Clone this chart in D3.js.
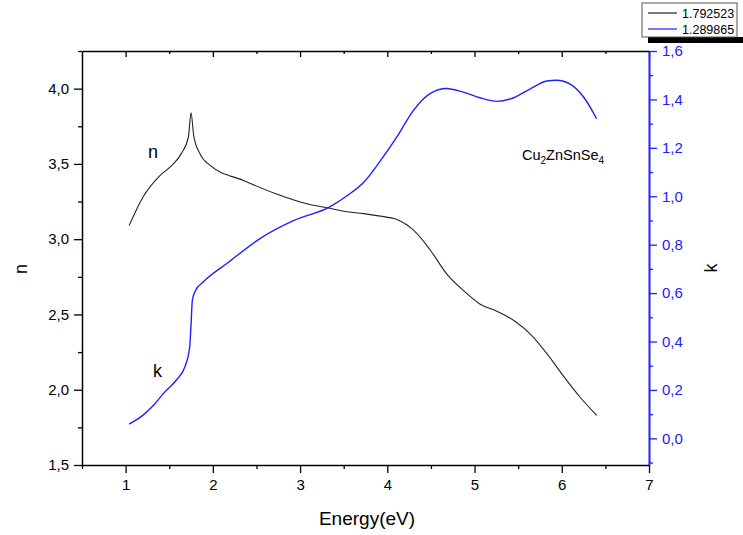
<!DOCTYPE html>
<html>
<head>
<meta charset="utf-8">
<script src="https://cdn.jsdelivr.net/npm/d3@7"></script>
<style>
  body { margin: 0; background: #fff; }
  svg { font-family: "Liberation Sans", Arial, sans-serif; }
</style>
</head>
<body>
<svg id="chart" width="743" height="535"></svg>
<script>
// 数据
const nEnergy = [1.04, 1.20, 1.39, 1.53, 1.64, 1.72, 1.75, 1.78, 1.85, 1.97, 2.35, 2.73, 3.11, 3.34, 3.50, 3.73, 3.90, 4.11, 4.30, 4.49, 4.68, 4.87, 5.06, 5.26, 5.45, 5.64, 5.83, 6.02, 6.21, 6.40];
const nValues = [3.09, 3.28, 3.42, 3.49, 3.57, 3.68, 3.84, 3.69, 3.57, 3.49, 3.39, 3.30, 3.23, 3.205, 3.185, 3.17, 3.155, 3.13, 3.06, 2.93, 2.77, 2.66, 2.57, 2.52, 2.46, 2.37, 2.24, 2.09, 1.95, 1.83];
const kEnergy = [1.04, 1.20, 1.32, 1.45, 1.58, 1.68, 1.735, 1.75, 1.765, 1.80, 1.89, 2.16, 2.54, 2.93, 3.34, 3.53, 3.73, 3.92, 4.11, 4.30, 4.49, 4.68, 4.87, 5.06, 5.26, 5.45, 5.64, 5.83, 5.94, 6.10, 6.25, 6.40];
const kValues = [0.059, 0.096, 0.137, 0.192, 0.24, 0.296, 0.378, 0.47, 0.57, 0.61, 0.646, 0.722, 0.825, 0.90, 0.956, 1.0, 1.058, 1.146, 1.245, 1.355, 1.424, 1.445, 1.43, 1.407, 1.392, 1.407, 1.444, 1.476, 1.479, 1.462, 1.41, 1.32];

const eTicks = [1, 2, 3, 4, 5, 6, 7];
const eMinor = [0.5, 1.5, 2.5, 3.5, 4.5, 5.5, 6.5];
const nTicks = [1.5, 2.0, 2.5, 3.0, 3.5, 4.0];
const nMinor = [1.75, 2.25, 2.75, 3.25, 3.75, 4.25];
const kTicks = [0.0, 0.2, 0.4, 0.6, 0.8, 1.0, 1.2, 1.4, 1.6];
const kMinor = [-0.1, 0.1, 0.3, 0.5, 0.7, 0.9, 1.1, 1.3, 1.5];

const legendLabels = ['1.792523', '1.289865'];
const blue = '#2020ff';

const svg = d3.select('#chart');
const margin = { top: 51, right: 94, bottom: 70, left: 82 };
const width = 743 - margin.left - margin.right;
const height = 535 - margin.top - margin.bottom;
const g = svg.append('g').attr('transform', `translate(${margin.left},${margin.top})`);

const x = d3.scaleLinear().domain([0.5, 7]).range([0, width]);
const yN = d3.scaleLinear().domain([1.5, 4.25]).range([height, 0]);
const yK = d3.scaleLinear().domain([-0.11, 1.6]).range([height, 0]);

const comma = f => v => d3.format(f)(v).replace('.', ',');

// 坐标轴
function styleAxis(sel, color) {
    sel.select('.domain').attr('stroke', color).attr('stroke-width', 1.5);
    sel.selectAll('line').attr('stroke', color).attr('stroke-width', 1.3);
    sel.selectAll('text').attr('fill', color).style('font-size', '15px');
}
function minorTicks(sel, color) {
    sel.select('.domain').remove();
    sel.selectAll('line').attr('stroke', color).attr('stroke-width', 1.3);
}

const bottomAxis = g.append('g').attr('transform', `translate(0,${height})`)
    .call(d3.axisBottom(x).tickValues(eTicks).tickFormat(d3.format('d')).tickSize(8).tickSizeOuter(0).tickPadding(6));
styleAxis(bottomAxis, '#000');
g.append('g').attr('transform', `translate(0,${height})`)
    .call(d3.axisBottom(x).tickValues(eMinor).tickFormat('').tickSize(4).tickSizeOuter(0))
    .call(s => minorTicks(s, '#000'));

const topAxis = g.append('g')
    .call(d3.axisBottom(x).tickValues(eTicks).tickFormat('').tickSize(6).tickSizeOuter(0));
styleAxis(topAxis, '#000');
g.append('g')
    .call(d3.axisBottom(x).tickValues(eMinor.slice(1)).tickFormat('').tickSize(3).tickSizeOuter(0))
    .call(s => minorTicks(s, '#000'));

const leftAxis = g.append('g')
    .call(d3.axisLeft(yN).tickValues(nTicks).tickFormat(comma('.1f')).tickSize(8).tickSizeOuter(0).tickPadding(5));
styleAxis(leftAxis, '#000');
g.append('g')
    .call(d3.axisLeft(yN).tickValues(nMinor).tickFormat('').tickSize(4).tickSizeOuter(0))
    .call(s => minorTicks(s, '#000'));

const rightAxis = g.append('g').attr('transform', `translate(${width},0)`)
    .call(d3.axisRight(yK).tickValues(kTicks).tickFormat(comma('.1f')).tickSize(8).tickSizeOuter(0).tickPadding(5));
styleAxis(rightAxis, blue);
rightAxis.select('.domain').attr('stroke-width', 2);
g.append('g').attr('transform', `translate(${width},0)`)
    .call(d3.axisRight(yK).tickValues(kMinor).tickFormat('').tickSize(4).tickSizeOuter(0))
    .call(s => minorTicks(s, blue));

// 轴标题
svg.append('text').attr('x', 367).attr('y', 525).attr('text-anchor', 'middle')
    .style('font-size', '19px').text('Energy(eV)');
svg.append('text').attr('transform', 'translate(27,269) rotate(-90)').attr('text-anchor', 'middle')
    .style('font-size', '18px').text('n');
svg.append('text').attr('transform', 'translate(717,268) rotate(-90)').attr('text-anchor', 'middle')
    .style('font-size', '18px').text('k');

// 曲线
const nData = nEnergy.map((e, i) => [e, nValues[i]]);
const kData = kEnergy.map((e, i) => [e, kValues[i]]);

g.append('path').datum(nData)
    .attr('fill', 'none').attr('stroke', '#222').attr('stroke-width', 1.1)
    .attr('d', d3.line().x(d => x(d[0])).y(d => yN(d[1])).curve(d3.curveMonotoneX));
g.append('path').datum(kData)
    .attr('fill', 'none').attr('stroke', blue).attr('stroke-width', 1.4)
    .attr('d', d3.line().x(d => x(d[0])).y(d => yK(d[1])).curve(d3.curveMonotoneX));

// 注释
svg.append('text').attr('x', 148).attr('y', 158).style('font-size', '18px').text('n');
svg.append('text').attr('x', 153).attr('y', 377).style('font-size', '18px').text('k');
const formula = svg.append('text').attr('x', 522).attr('y', 160).style('font-size', '14.5px');
[['Cu', 0], ['2', 4], ['ZnSnSe', -4], ['4', 4]].forEach(([t, dy]) => {
    formula.append('tspan').attr('dy', dy).style('font-size', dy > 0 ? '10px' : '14.5px').text(t);
});

// 图例
const lg = svg.append('g').attr('transform', 'translate(642,3)');
lg.append('rect').attr('x', 6).attr('y', 34).attr('width', 100).attr('height', 6).attr('fill', '#000');
lg.append('rect').attr('x', 0).attr('y', 0).attr('width', 95).attr('height', 34)
    .attr('fill', '#fff').attr('stroke', '#555').attr('stroke-width', 1);
legendLabels.forEach((t, i) => {
    const yy = 10 + i * 16;
    lg.append('line').attr('x1', 6).attr('x2', 35).attr('y1', yy).attr('y2', yy)
        .attr('stroke', i === 0 ? '#222' : blue).attr('stroke-width', 1.2);
    lg.append('text').attr('x', 40).attr('y', yy + 4.5).style('font-size', '12.5px').text(t);
});
</script>
</body>
</html>
